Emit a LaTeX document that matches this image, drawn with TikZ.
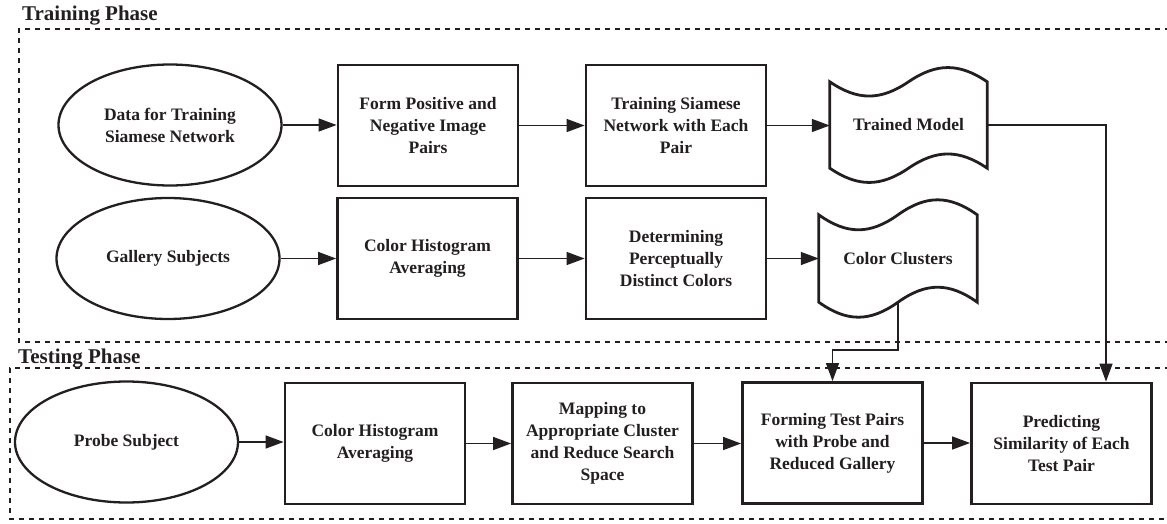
\documentclass[tikz,border=0pt]{standalone}
\usepackage{fontspec}
\setmainfont{Liberation Serif}
\usetikzlibrary{shapes.geometric,arrows.meta,calc}
\definecolor{ink}{RGB}{35,31,32}
\newcommand{\drawtape}[3]{\draw[tapeline] (#1.north west) .. controls +(#2,#3) and +(-#2,#3) .. (#1.north) .. controls +(#2,-#3) and +(-#2,-#3) .. (#1.north east) -- (#1.south east) .. controls +(-#2,-#3) and +(#2,-#3) .. (#1.south) .. controls +(-#2,#3) and +(#2,#3) .. (#1.south west) -- cycle;}
\begin{document}
\begin{tikzpicture}[x=1pt,y=-1pt,
  font=\bfseries\fontsize{17.5}{22}\selectfont, color=ink,
  procbox/.style={draw, line width=2.8pt, minimum width=180, minimum height=121, align=center, inner sep=2pt},
  oval/.style={ellipse, draw, line width=2.3pt, minimum width=223, minimum height=121, align=center, inner sep=0pt},
  conn/.style={line width=1.4pt, -{Triangle[length=18pt,width=13pt]}},
  phase/.style={line width=2.8pt, dash pattern=on 5pt off 5pt},
  tapebox/.style={minimum width=157, minimum height=86, align=center, inner sep=0pt},
  tapeline/.style={draw, line width=2.8pt, line join=miter},
  title/.style={font=\bfseries\fontsize{21}{25}\selectfont, anchor=base west, inner sep=0pt}]
\useasboundingbox (0,0) rectangle (1167,523);

% phase frames
\draw[phase] (1170,29) -- (19,29) -- (19,342) -- (1170,342);
\draw[phase] (1170,368) -- (10,368) -- (10,519) -- (1170,519);
\node[title] (t1) at (22,20) {Training Phase};
\node[title] (t2) at (18,363) {Testing Phase};

% row 1
\node[oval] (d1) at (170,125) {Data for Training\\Siamese Network};
\node[procbox] (b1) at (428,125.5) {Form Positive and\\Negative Image\\Pairs};
\node[procbox] (b2) at (676,125.5) {Training Siamese\\Network with Each\\Pair};
\node[tapebox] (tm) at (908.5,125) {Trained Model};
\drawtape{tm}{28}{19}

% row 2
\node[oval] (g1) at (168,258.5) {Gallery Subjects};
\node[procbox] (b3) at (427.5,258.5) {Color Histogram\\Averaging};
\node[procbox] (b4) at (676,258.5) {Determining\\Perceptually\\Distinct Colors};
\node[tapebox, minimum width=158, minimum height=87] (cc) at (898,258.5) {Color Clusters};
\drawtape{cc}{28}{20}

% row 3
\node[oval] (p1) at (126.5,442) {Probe Subject};
\node[procbox] (b5) at (375,443.5) {Color Histogram\\Averaging};
\node[procbox] (b6) at (602.5,443.5) {Mapping to\\Appropriate Cluster\\and Reduce Search\\Space};
\node[procbox] (b7) at (832.5,443) {Forming Test Pairs\\with Probe and\\Reduced Gallery};
\node[procbox] (b8) at (1061.5,443.5) {Predicting\\Similarity of Each\\Test Pair};

% connectors
\draw[conn] (d1.east) -- (d1.east -| b1.west);
\draw[conn] (b1.east) -- (b1.east -| b2.west);
\draw[conn] (b2.east) -- (b2.east -| tm.west);
\draw[conn] (g1.east) -- (g1.east -| b3.west);
\draw[conn] (b3.east) -- (b3.east -| b4.west);
\draw[conn] (b4.east) -- (b4.east -| cc.west);
\draw[conn] (p1.east) -- (p1.east -| b5.west);
\draw[conn] (b5.east) -- (b5.east -| b6.west);
\draw[conn] (b6.east) -- (b6.east -| b7.west);
\draw[conn] (b7.east) -- (b7.east -| b8.west);

\coordinate (j1) at (898,350);
\draw[conn] (cc.south) -- (j1) -| (b7.north);
\coordinate (j2) at (1106,125);
\draw[conn] (tm.east) -- (j2) -- (j2 |- b8.north);
\end{tikzpicture}
\end{document}
